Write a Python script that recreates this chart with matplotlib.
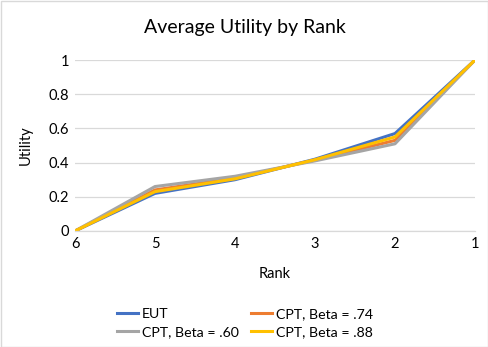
import matplotlib.pyplot as plt
from matplotlib.patches import Rectangle

# ranks on the x axis (drawn 6 -> 1)
ranks = [6, 5, 4, 3, 2, 1]

eut = [0, 0.22, 0.30, 0.42, 0.57, 1.0]
cpt_60 = [0, 0.26, 0.32, 0.41, 0.51, 1.0]
cpt_74 = [0, 0.24, 0.31, 0.415, 0.53, 1.0]
cpt_88 = [0, 0.23, 0.305, 0.417, 0.55, 1.0]

plt.rcParams['font.family'] = ['Lato', 'DejaVu Sans']

fig = plt.figure(figsize=(4.89, 3.47), dpi=100)
ax = fig.add_axes([75 / 489, 1 - 231 / 347, 400 / 489, 171 / 347])

ax.plot(ranks, eut, color='#4472C4', lw=2.2, label='EUT', solid_joinstyle='round')
ax.plot(ranks, cpt_74, color='#ED7D31', lw=2.2, label='CPT, Beta = .74', solid_joinstyle='round')
ax.plot(ranks, cpt_60, color='#A5A5A5', lw=2.2, label='CPT, Beta = .60', solid_joinstyle='round')
ax.plot(ranks, cpt_88, color='#FFC000', lw=2.2, label='CPT, Beta = .88', solid_joinstyle='round')

ax.set_xlim(6, 1)
ax.set_ylim(0, 1)
ax.set_xticks(ranks)
ax.set_xticklabels([str(r) for r in ranks])
ax.set_yticks([0, 0.2, 0.4, 0.6, 0.8, 1])
ax.set_yticklabels(['0', '0.2', '0.4', '0.6', '0.8', '1'])
ax.tick_params(length=0, labelsize=10.5, colors='#000000', pad=4)
ax.grid(axis='y', color='#d9d9d9', lw=0.9)
ax.set_axisbelow(True)
for s in ['top', 'right', 'left']:
    ax.spines[s].set_visible(False)
ax.spines['bottom'].set_color('#d9d9d9')
ax.spines['bottom'].set_linewidth(0.9)

fig.text(245 / 489, 1 - 27 / 347, 'Average Utility by Rank', fontsize=14,
         ha='center', va='center')
ax.set_xlabel('Rank', fontsize=10.5, labelpad=12)
ax.set_ylabel('Utility', fontsize=10.5, labelpad=12)

h, l = ax.get_legend_handles_labels()
# column-major fill: EUT, .60 | .74, .88
order = [0, 2, 1, 3]
fig.legend([h[i] for i in order], [l[i] for i in order], ncol=2,
           loc='center', bbox_to_anchor=(245 / 489, 1 - 323 / 347),
           frameon=False, fontsize=10.2, handlelength=1.45,
           columnspacing=0.85, labelspacing=0.4, handletextpad=0.3)

fig.patches.append(Rectangle((0.5 / 489, 0.5 / 347), 1 - 1.5 / 489, 1 - 1.5 / 347,
                             transform=fig.transFigure, fill=False,
                             edgecolor='#d9d9d9', lw=1))

fig.savefig('out.png', dpi=100)
